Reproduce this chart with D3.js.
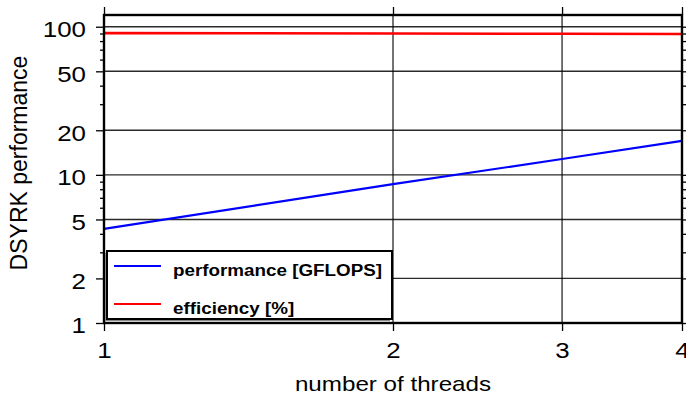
<!DOCTYPE html>
<html>
<head>
<meta charset="utf-8">
<script src="https://cdn.jsdelivr.net/npm/d3@7"></script>
<style>
  html, body { margin: 0; padding: 0; background: #fff; }
  svg { display: block; font-family: "Liberation Sans", Arial, Helvetica, sans-serif; }
</style>
</head>
<body>
<svg id="chart" width="686" height="396"></svg>
<script>
// Thread counts and measured DSYRK results
const threads = [1, 2, 3, 4];
const performance = [4.32, 8.65, 12.8, 16.95];   // GFLOPS
const efficiency = [90.6, 90.0, 89.6, 89.3];     // percent

const xTicks = [1, 2, 3, 4];
const yMajorTicks = [1, 2, 5, 10, 20, 50, 100];
const yMinorTicks = [3, 4, 6, 7, 8, 9, 30, 40, 60, 70, 80, 90];

const seriesNames = ["performance [GFLOPS]", "efficiency [%]"];
const seriesColors = ["#0000ff", "#ff0000"];

const svg = d3.select("#chart");
const m = { left: 104, right: 682, top: 15, bottom: 323 };
const stretch = 1.15;   // horizontal text widening

const x = d3.scaleLog().domain([1, 4]).range([m.left, m.right]);
const y = d3.scaleLog().domain([1, 120]).range([m.bottom, m.top]);

// Grid lines
const grid = svg.append("g");
grid.selectAll("line.h").data(yMajorTicks).join("line")
  .attr("x1", m.left).attr("x2", m.right)
  .attr("y1", d => y(d)).attr("y2", d => y(d))
  .attr("stroke", "#2a2a2a").attr("stroke-width", 1.4);
grid.selectAll("line.v").data(xTicks.filter(d => d > 1 && d < 4)).join("line")
  .attr("x1", d => x(d)).attr("x2", d => x(d))
  .attr("y1", m.top).attr("y2", m.bottom)
  .attr("stroke", "#000").attr("stroke-width", 1.1);

// Data lines
const line = d3.line().x((d, i) => x(threads[i])).y(d => y(d));
[performance, efficiency].forEach((vals, k) => {
  svg.append("path").datum(vals)
    .attr("d", line)
    .attr("fill", "none")
    .attr("stroke", seriesColors[k])
    .attr("stroke-width", k === 0 ? 2.2 : 2.6);
});

// Axes with ticks on all four sides
const fmt = d3.format("d");
const axLeft = svg.append("g").attr("transform", `translate(${m.left},0)`)
  .call(d3.axisLeft(y).tickValues(yMajorTicks).tickFormat(fmt).tickSize(8).tickPadding(10));
const axLeftMinor = svg.append("g").attr("transform", `translate(${m.left},0)`)
  .call(d3.axisLeft(y).tickValues(yMinorTicks).tickFormat("").tickSize(4));
const axRight = svg.append("g").attr("transform", `translate(${m.right},0)`)
  .call(d3.axisRight(y).tickValues(yMajorTicks).tickFormat("").tickSize(8));
const axRightMinor = svg.append("g").attr("transform", `translate(${m.right},0)`)
  .call(d3.axisRight(y).tickValues(yMinorTicks).tickFormat("").tickSize(4));
const axBottom = svg.append("g").attr("transform", `translate(0,${m.bottom})`)
  .call(d3.axisBottom(x).tickValues(xTicks).tickFormat(fmt).tickSize(8).tickPadding(11));
const axTop = svg.append("g").attr("transform", `translate(0,${m.top})`)
  .call(d3.axisTop(x).tickValues(xTicks).tickFormat("").tickSize(8));

[axLeft, axLeftMinor, axRight, axRightMinor, axBottom, axTop].forEach(g => {
  g.select(".domain").remove();
  g.selectAll(".tick line").attr("stroke", "#000").attr("stroke-width", 1.3);
  g.selectAll(".tick text").attr("fill", "#000").style("font-size", "22.5px");
});
// widen the tick labels about their anchor points
axLeft.selectAll(".tick text")
  .attr("x", -18 / stretch).attr("dy", "0.44em")
  .attr("transform", `scale(${stretch},1)`);
axBottom.selectAll(".tick text")
  .attr("transform", `scale(${stretch},1)`);

// Frame
svg.append("rect")
  .attr("x", m.left).attr("y", m.top)
  .attr("width", m.right - m.left).attr("height", m.bottom - m.top)
  .attr("fill", "none").attr("stroke", "#000").attr("stroke-width", 2.4);

// Legend
const lg = { x0: 107, y0: 251, x1: 392, y1: 319 };
svg.append("rect")
  .attr("x", lg.x0 - 2).attr("y", lg.y0 + 2)
  .attr("width", lg.x1 - lg.x0).attr("height", lg.y1 - lg.y0)
  .attr("fill", "#888");
svg.append("rect")
  .attr("x", lg.x0).attr("y", lg.y0)
  .attr("width", lg.x1 - lg.x0).attr("height", lg.y1 - lg.y0)
  .attr("fill", "#fff").attr("stroke", "#000").attr("stroke-width", 2);
seriesNames.forEach((name, i) => {
  const yy = 266 + i * 38;
  svg.append("line")
    .attr("x1", 114).attr("x2", 161).attr("y1", yy).attr("y2", yy)
    .attr("stroke", seriesColors[i]).attr("stroke-width", 2.2);
  svg.append("text")
    .attr("transform", `translate(173,${yy + 10}) scale(1.12,1)`)
    .attr("font-weight", "bold").attr("font-size", "16.8px")
    .text(name);
});

// Axis titles
svg.append("text")
  .attr("transform", `translate(393,391) scale(1.18,1)`)
  .attr("text-anchor", "middle").attr("font-size", "20.5px")
  .text("number of threads");
svg.append("text")
  .attr("transform", "translate(27,163) rotate(-90)")
  .attr("text-anchor", "middle").attr("font-size", "23px")
  .text("DSYRK performance");
</script>
</body>
</html>
